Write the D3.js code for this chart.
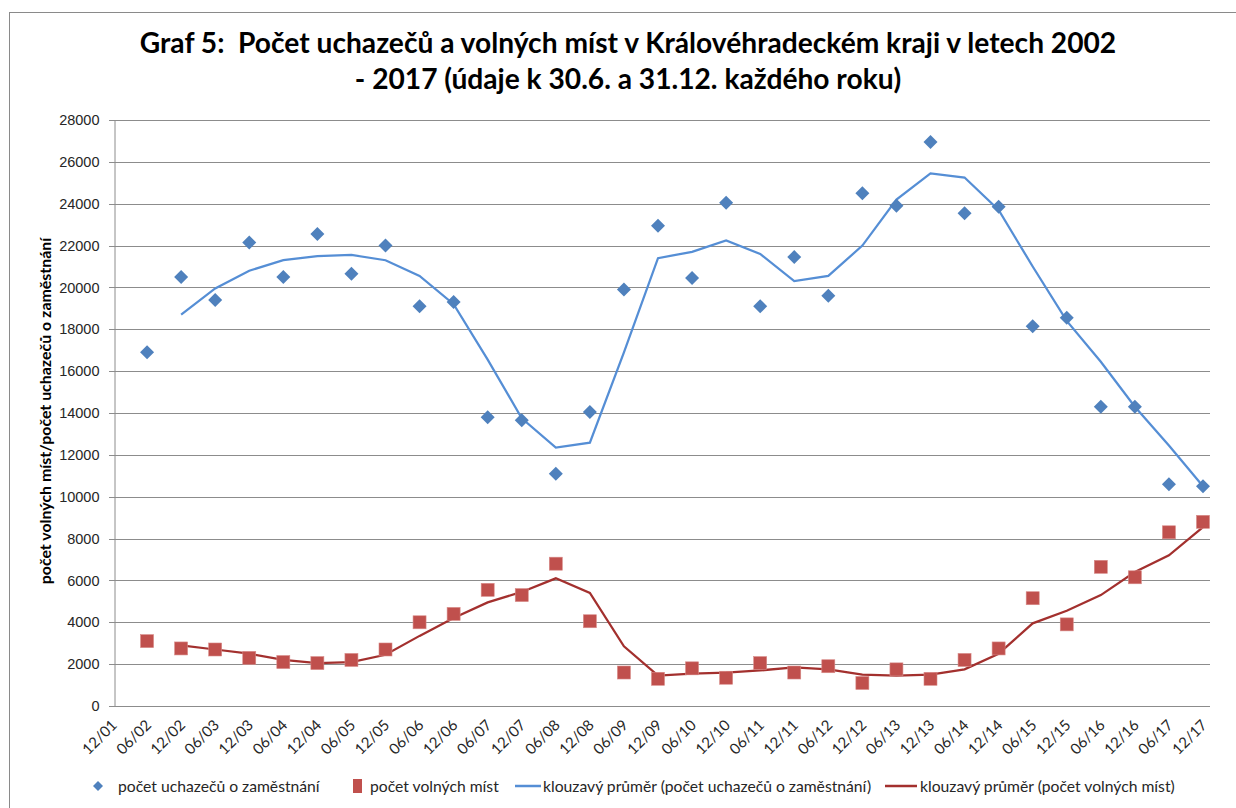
<!DOCTYPE html>
<html>
<head>
  <meta charset="utf-8">
  <title>Graf 5 - uchazeči a volná místa</title>
  <script src="https://d3js.org/d3.v7.min.js"></script>
  <style>
    body {
      margin: 0;
      background: #fff;
    }
    svg {
      display: block;
      font-family: Lato, "Open Sans", sans-serif;
    }
  </style>
</head>
<body>
  <div id="chart"></div>
  <script>
    // kategorie (pololetí) a hodnoty
    var categories = ["12/01", "06/02", "12/02", "06/03", "12/03", "06/04", "12/04", "06/05", "12/05",
      "06/06", "12/06", "06/07", "12/07", "06/08", "12/08", "06/09", "12/09", "06/10", "12/10",
      "06/11", "12/11", "06/12", "12/12", "06/13", "12/13", "06/14", "12/14", "06/15", "12/15",
      "06/16", "12/16", "06/17", "12/17"];

    var uchazeci = [null, 16900, 20500, 19400, 22150, 20500, 22550, 20650, 22000,
      19100, 19300, 13800, 13650, 11100, 14050, 19900, 22950, 20450, 24050,
      19100, 21450, 19600, 24500, 23900, 26950, 23550, 23850, 18150, 18550,
      14300, 14300, 10600, 10500];

    var volnaMista = [null, 3100, 2750, 2700, 2300, 2100, 2050, 2200, 2700,
      4000, 4400, 5550, 5300, 6800, 4050, 1600, 1300, 1800, 1350,
      2050, 1600, 1900, 1100, 1750, 1300, 2200, 2750, 5150, 3900,
      6650, 6150, 8300, 8800];

    // klouzavé průměry, jak jsou nakreslené v grafu
    var prumerUchazeci = [null, null, 18700, 19950, 20800, 21300, 21500, 21550, 21300,
      20550, 19200, 16550, 13750, 12350, 12580, 16900, 21400, 21700, 22250,
      21600, 20300, 20550, 22000, 24200, 25450, 25250, 23700, 21000, 18400,
      16450, 14300, 12450, 10500];

    var prumerMista = [null, null, 2900, 2700, 2500, 2200, 2050, 2100, 2450,
      3350, 4200, 4950, 5450, 6100, 5400, 2850, 1450, 1550, 1600,
      1700, 1850, 1750, 1500, 1450, 1500, 1750, 2500, 3950, 4550,
      5300, 6400, 7200, 8550];

    var yTicks = [0, 2000, 4000, 6000, 8000, 10000, 12000, 14000, 16000, 18000,
      20000, 22000, 24000, 26000, 28000];

    var titleLines = ["Graf 5:  Počet uchazečů a volných míst v Královéhradeckém kraji v letech 2002",
      "- 2017 (údaje k 30.6. a 31.12. každého roku)"];
    var yTitle = "počet volných míst/počet uchazečů o zaměstnání";
    var legendLabels = ["počet uchazečů o zaměstnání", "počet volných míst",
      "klouzavý průměr (počet uchazečů o zaměstnání)", "klouzavý průměr (počet volných míst)"];

    var blue = "#4f81bd", blueLine = "#558ed5", red = "#c0504d", redLine = "#a3302e";
    var gridColor = "#8c8c8c";

    var svg = d3.select("#chart")
      .append("svg")
      .attr("width", 1236)
      .attr("height", 808);

    // rámeček oblasti grafu
    svg.append("rect")
      .attr("x", 9.5).attr("y", 12.5)
      .attr("width", 1260).attr("height", 840)
      .attr("fill", "none")
      .attr("stroke", "#8a8a8a");

    var plot = {left: 114, right: 1210, top: 120, bottom: 706};

    var x = d3.scalePoint()
      .domain(categories)
      .range([113, 1203]);

    var y = d3.scaleLinear()
      .domain([0, 28000])
      .range([plot.bottom, plot.top]);

    // title, sized to fit the reference width
    var title = svg.append("g").attr("font-weight", "bold").attr("fill", "#000");
    var t1 = title.append("text")
      .attr("x", 628).attr("y", 53)
      .attr("text-anchor", "middle")
      .style("white-space", "pre")
      .style("font-size", "26px")
      .text(titleLines[0]);
    var w1 = t1.node().getComputedTextLength();
    var fs = 26 * 977 / w1;
    t1.style("font-size", fs + "px");
    title.append("text")
      .attr("x", 628).attr("y", 89)
      .attr("text-anchor", "middle")
      .style("white-space", "pre")
      .style("font-size", fs + "px")
      .text(titleLines[1]);

    // gridlines
    svg.append("g")
      .selectAll("line")
      .data(yTicks)
      .join("line")
      .attr("x1", plot.left - 5)
      .attr("x2", plot.right)
      .attr("y1", function(d) { return Math.round(y(d)) + 0.5; })
      .attr("y2", function(d) { return Math.round(y(d)) + 0.5; })
      .attr("stroke", gridColor)
      .attr("stroke-width", 1);

    // y axis
    var yAxis = svg.append("g")
      .attr("transform", "translate(" + (plot.left + 0.5) + ",0)")
      .call(d3.axisLeft(y).tickValues(yTicks).tickSizeInner(5).tickSizeOuter(0).tickPadding(10).tickFormat(d3.format("d")));
    yAxis.select(".domain").attr("stroke", gridColor);
    yAxis.selectAll(".tick line").attr("stroke", "none");
    yAxis.selectAll("text")
      .style("font-size", "14.5px")
      .attr("fill", "#262626");

    // y axis title, stretched to the reference length
    var yt = svg.append("text")
      .attr("transform", "translate(44,411) rotate(-90)")
      .attr("text-anchor", "middle")
      .attr("dominant-baseline", "central")
      .attr("font-weight", "bold")
      .style("font-size", "13px")
      .text(yTitle);
    var ytw = yt.node().getComputedTextLength();
    yt.style("font-size", (13 * 347 / ytw) + "px");

    // x category labels
    svg.append("g")
      .selectAll("text")
      .data(categories)
      .join("text")
      .attr("transform", function(d) { return "translate(" + (x(d) + 5) + ",726) rotate(-45)"; })
      .attr("text-anchor", "end")
      .style("font-size", "15px")
      .attr("fill", "#262626")
      .text(function(d) { return d; });

    // moving average lines
    var line = d3.line()
      .defined(function(d) { return d != null; })
      .x(function(d, i) { return x(categories[i]); })
      .y(function(d) { return y(d); });

    svg.append("path")
      .datum(prumerUchazeci)
      .attr("d", line)
      .attr("fill", "none")
      .attr("stroke", blueLine)
      .attr("stroke-width", 2.25);

    svg.append("path")
      .datum(prumerMista)
      .attr("d", line)
      .attr("fill", "none")
      .attr("stroke", redLine)
      .attr("stroke-width", 2.25);

    function diamondPath(r) {
      return "M0," + (-r) + "L" + r + ",0L0," + r + "L" + (-r) + ",0Z";
    }

    var pointsU = uchazeci.map(function(v, i) { return {c: categories[i], v: v}; })
      .filter(function(d) { return d.v != null; });
    var pointsM = volnaMista.map(function(v, i) { return {c: categories[i], v: v}; })
      .filter(function(d) { return d.v != null; });

    svg.append("g")
      .selectAll("path")
      .data(pointsU)
      .join("path")
      .attr("transform", function(d) { return "translate(" + x(d.c) + "," + y(d.v) + ")"; })
      .attr("d", diamondPath(7))
      .attr("fill", blue);

    svg.append("g")
      .selectAll("rect")
      .data(pointsM)
      .join("rect")
      .attr("x", function(d) { return x(d.c) - 6.5; })
      .attr("y", function(d) { return y(d.v) - 6.5; })
      .attr("width", 13)
      .attr("height", 13)
      .attr("fill", red)
      .attr("stroke", "#d88a88")
      .attr("stroke-width", 0.6);

    // legend
    var legend = svg.append("g").style("font-size", "15.7px").attr("fill", "#262626");
    var ly = 786;
    legend.append("path")
      .attr("transform", "translate(98," + ly + ")")
      .attr("d", diamondPath(5))
      .attr("fill", blue);
    legend.append("text").attr("x", 118).attr("y", ly).attr("dominant-baseline", "central").text(legendLabels[0]);

    legend.append("rect")
      .attr("x", 353).attr("y", ly - 7).attr("width", 9).attr("height", 14)
      .attr("fill", red);
    legend.append("text").attr("x", 370).attr("y", ly).attr("dominant-baseline", "central").text(legendLabels[1]);

    legend.append("line")
      .attr("x1", 515).attr("x2", 541).attr("y1", ly).attr("y2", ly)
      .attr("stroke", blueLine).attr("stroke-width", 2.5);
    legend.append("text").attr("x", 543).attr("y", ly).attr("dominant-baseline", "central").text(legendLabels[2]);

    legend.append("line")
      .attr("x1", 885).attr("x2", 917).attr("y1", ly).attr("y2", ly)
      .attr("stroke", redLine).attr("stroke-width", 2.5);
    legend.append("text").attr("x", 920).attr("y", ly).attr("dominant-baseline", "central").text(legendLabels[3]);
  </script>
</body>
</html>
